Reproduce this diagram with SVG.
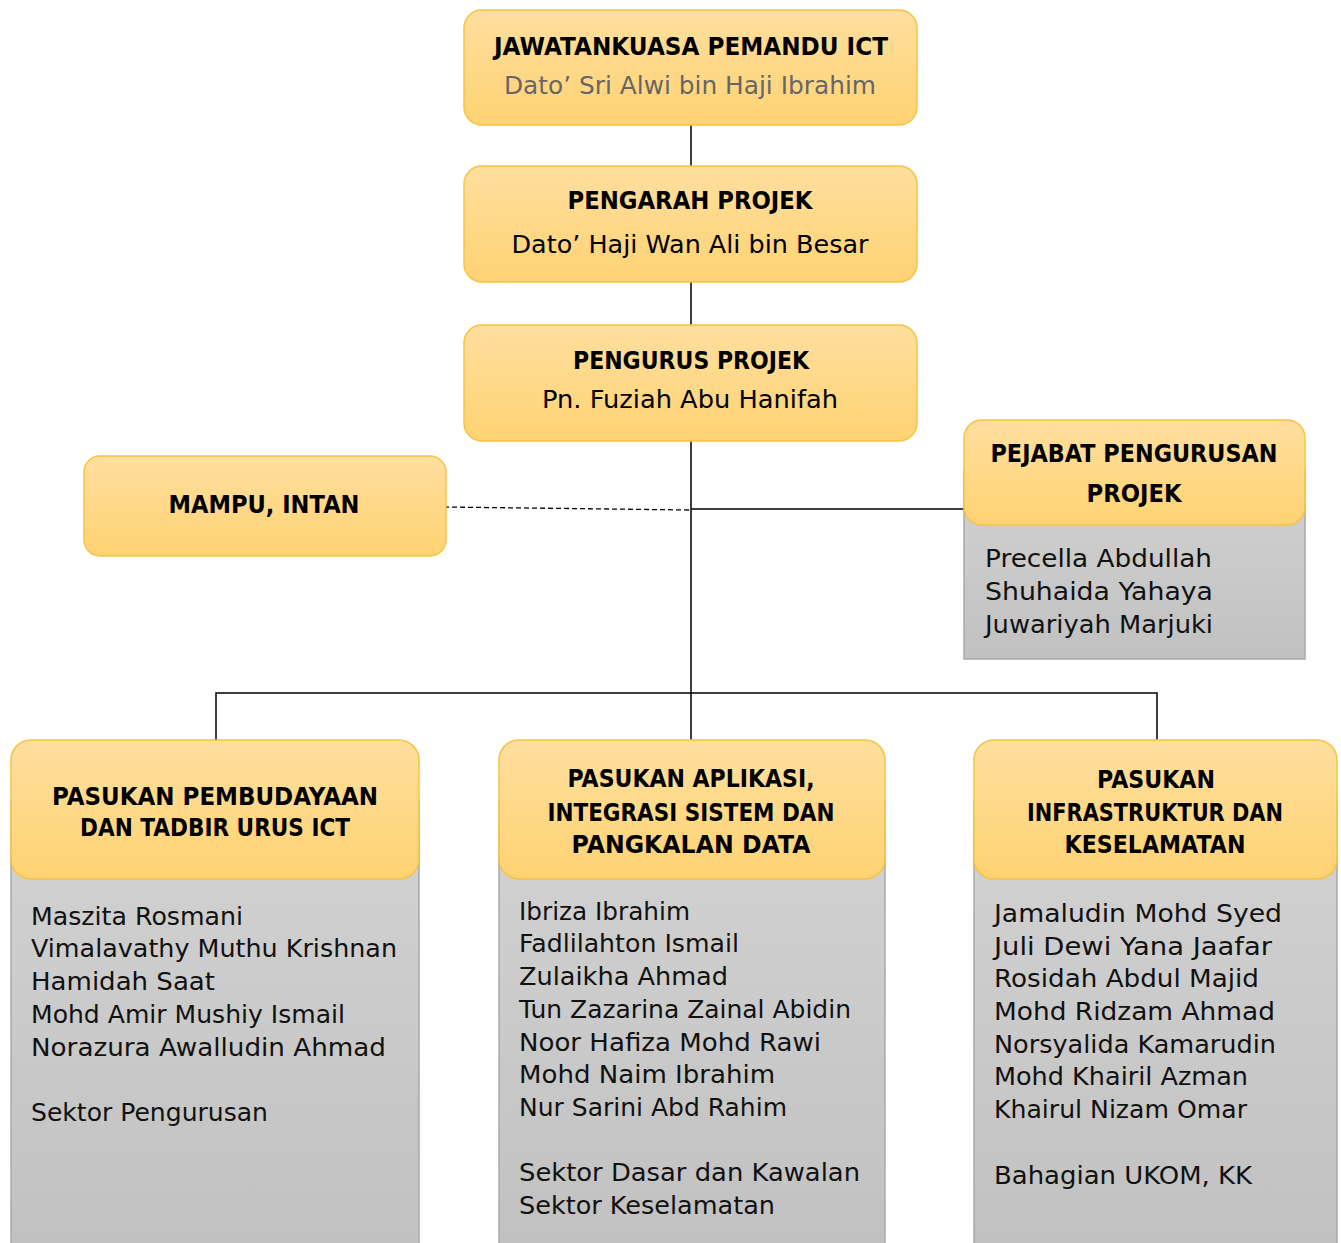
<svg xmlns="http://www.w3.org/2000/svg" width="1341" height="1243" viewBox="0 0 1341 1243">
<defs>
<linearGradient id="og" x1="0" y1="0" x2="0" y2="1">
<stop offset="0" stop-color="#ffdf9f"/>
<stop offset="1" stop-color="#ffd373"/>
</linearGradient>
<linearGradient id="gg" x1="0" y1="0" x2="0" y2="1">
<stop offset="0" stop-color="#d3d3d3"/>
<stop offset="1" stop-color="#c1c1c1"/>
</linearGradient>
<style>
.hd{fill:url(#og);stroke:#f7c242;stroke-width:1.5}
.gb{fill:url(#gg);stroke:#a9a9a9;stroke-width:1.5}
.t{font-family:"DejaVu Sans","Liberation Sans",sans-serif;font-weight:bold;font-size:24px;fill:#000;text-anchor:middle}
.s{font-family:"DejaVu Sans","Liberation Sans",sans-serif;font-size:25px;fill:#000;text-anchor:middle}
.n{font-family:"DejaVu Sans","Liberation Sans",sans-serif;font-size:25px;fill:#111}
.ln{fill:none;stroke:#000;stroke-width:1.5}
</style>
</defs>
<rect width="1341" height="1243" fill="#fff"/>
<g id="connectors">
<line class="ln" x1="691" y1="125" x2="691" y2="166"/>
<line class="ln" x1="691" y1="282" x2="691" y2="325"/>
<line class="ln" x1="691" y1="441" x2="691" y2="740"/>
<line class="ln" x1="691" y1="509" x2="964" y2="509"/>
<line x1="444" y1="507" x2="691" y2="510" stroke="#000" stroke-width="1.3" stroke-dasharray="5,3"/>
<polyline class="ln" points="216,740 216,693 1157,693 1157,740"/>
</g>
<g id="n1">
<rect class="hd" x="464" y="10" width="453" height="115" rx="18"/>
<text class="t" x="691" y="55" textLength="394" lengthAdjust="spacingAndGlyphs">JAWATANKUASA PEMANDU ICT</text>
<text class="s" x="690" y="94" fill="#666" style="fill:#666" textLength="372" lengthAdjust="spacingAndGlyphs">Dato’ Sri Alwi bin Haji Ibrahim</text>
</g>
<g id="n2">
<rect class="hd" x="464" y="166" width="453" height="116" rx="18"/>
<text class="t" x="690" y="209" textLength="245" lengthAdjust="spacingAndGlyphs">PENGARAH PROJEK</text>
<text class="s" x="690" y="253" textLength="357" lengthAdjust="spacingAndGlyphs">Dato’ Haji Wan Ali bin Besar</text>
</g>
<g id="n3">
<rect class="hd" x="464" y="325" width="453" height="116" rx="18"/>
<text class="t" x="691" y="369" textLength="236" lengthAdjust="spacingAndGlyphs">PENGURUS PROJEK</text>
<text class="s" x="690" y="408" textLength="296" lengthAdjust="spacingAndGlyphs">Pn. Fuziah Abu Hanifah</text>
</g>
<g id="mampu">
<rect class="hd" x="84" y="456" width="362" height="100" rx="16"/>
<text class="t" x="264" y="513" textLength="191" lengthAdjust="spacingAndGlyphs">MAMPU, INTAN</text>
</g>
<g id="pejabat">
<rect class="gb" x="964" y="470" width="341" height="189"/>
<rect class="hd" x="964" y="420" width="341" height="105" rx="18"/>
<text class="t" x="1134" y="462" textLength="287" lengthAdjust="spacingAndGlyphs">PEJABAT PENGURUSAN</text>
<text class="t" x="1134" y="502" textLength="95" lengthAdjust="spacingAndGlyphs">PROJEK</text>
<text class="n" x="985" y="567" textLength="227" lengthAdjust="spacingAndGlyphs">Precella Abdullah</text>
<text class="n" x="985" y="600" textLength="228" lengthAdjust="spacingAndGlyphs">Shuhaida Yahaya</text>
<text class="n" x="985" y="633" textLength="228" lengthAdjust="spacingAndGlyphs">Juwariyah Marjuki</text>
</g>
<g id="pembudayaan">
<rect class="gb" x="11" y="800" width="408" height="450"/>
<rect class="hd" x="11" y="740" width="408" height="139" rx="20"/>
<text class="t" x="215" y="805" textLength="326" lengthAdjust="spacingAndGlyphs">PASUKAN PEMBUDAYAAN</text>
<text class="t" x="215" y="836" textLength="270" lengthAdjust="spacingAndGlyphs">DAN TADBIR URUS ICT</text>
<text class="n" x="31" y="925" textLength="212" lengthAdjust="spacingAndGlyphs">Maszita Rosmani</text>
<text class="n" x="31" y="957" textLength="366" lengthAdjust="spacingAndGlyphs">Vimalavathy Muthu Krishnan</text>
<text class="n" x="31" y="990" textLength="184" lengthAdjust="spacingAndGlyphs">Hamidah Saat</text>
<text class="n" x="31" y="1023" textLength="314" lengthAdjust="spacingAndGlyphs">Mohd Amir Mushiy Ismail</text>
<text class="n" x="31" y="1056" textLength="355" lengthAdjust="spacingAndGlyphs">Norazura Awalludin Ahmad</text>
<text class="n" x="31" y="1121" textLength="237" lengthAdjust="spacingAndGlyphs">Sektor Pengurusan</text>
</g>
<g id="aplikasi">
<rect class="gb" x="499" y="800" width="386" height="450"/>
<rect class="hd" x="499" y="740" width="386" height="139" rx="20"/>
<text class="t" x="691" y="787" textLength="247" lengthAdjust="spacingAndGlyphs">PASUKAN APLIKASI,</text>
<text class="t" x="691" y="821" textLength="287" lengthAdjust="spacingAndGlyphs">INTEGRASI SISTEM DAN</text>
<text class="t" x="691" y="853" textLength="239" lengthAdjust="spacingAndGlyphs">PANGKALAN DATA</text>
<text class="n" x="519" y="920" textLength="171" lengthAdjust="spacingAndGlyphs">Ibriza Ibrahim</text>
<text class="n" x="519" y="952" textLength="220" lengthAdjust="spacingAndGlyphs">Fadlilahton Ismail</text>
<text class="n" x="519" y="985" textLength="209" lengthAdjust="spacingAndGlyphs">Zulaikha Ahmad</text>
<text class="n" x="519" y="1018" textLength="332" lengthAdjust="spacingAndGlyphs">Tun Zazarina Zainal Abidin</text>
<text class="n" x="519" y="1051" textLength="302" lengthAdjust="spacingAndGlyphs">Noor Hafiza Mohd Rawi</text>
<text class="n" x="519" y="1083" textLength="256" lengthAdjust="spacingAndGlyphs">Mohd Naim Ibrahim</text>
<text class="n" x="519" y="1116" textLength="268" lengthAdjust="spacingAndGlyphs">Nur Sarini Abd Rahim</text>
<text class="n" x="519" y="1181" textLength="341" lengthAdjust="spacingAndGlyphs">Sektor Dasar dan Kawalan</text>
<text class="n" x="519" y="1214" textLength="256" lengthAdjust="spacingAndGlyphs">Sektor Keselamatan</text>
</g>
<g id="infrastruktur">
<rect class="gb" x="974" y="800" width="363" height="450"/>
<rect class="hd" x="974" y="740" width="363" height="139" rx="20"/>
<text class="t" x="1156" y="788" textLength="118" lengthAdjust="spacingAndGlyphs">PASUKAN</text>
<text class="t" x="1155" y="821" textLength="256" lengthAdjust="spacingAndGlyphs">INFRASTRUKTUR DAN</text>
<text class="t" x="1155" y="853" textLength="181" lengthAdjust="spacingAndGlyphs">KESELAMATAN</text>
<text class="n" x="994" y="922" textLength="288" lengthAdjust="spacingAndGlyphs">Jamaludin Mohd Syed</text>
<text class="n" x="994" y="955" textLength="278" lengthAdjust="spacingAndGlyphs">Juli Dewi Yana Jaafar</text>
<text class="n" x="994" y="987" textLength="265" lengthAdjust="spacingAndGlyphs">Rosidah Abdul Majid</text>
<text class="n" x="994" y="1020" textLength="281" lengthAdjust="spacingAndGlyphs">Mohd Ridzam Ahmad</text>
<text class="n" x="994" y="1053" textLength="282" lengthAdjust="spacingAndGlyphs">Norsyalida Kamarudin</text>
<text class="n" x="994" y="1085" textLength="254" lengthAdjust="spacingAndGlyphs">Mohd Khairil Azman</text>
<text class="n" x="994" y="1118" textLength="253" lengthAdjust="spacingAndGlyphs">Khairul Nizam Omar</text>
<text class="n" x="994" y="1184" textLength="258" lengthAdjust="spacingAndGlyphs">Bahagian UKOM, KK</text>
</g>
</svg>
